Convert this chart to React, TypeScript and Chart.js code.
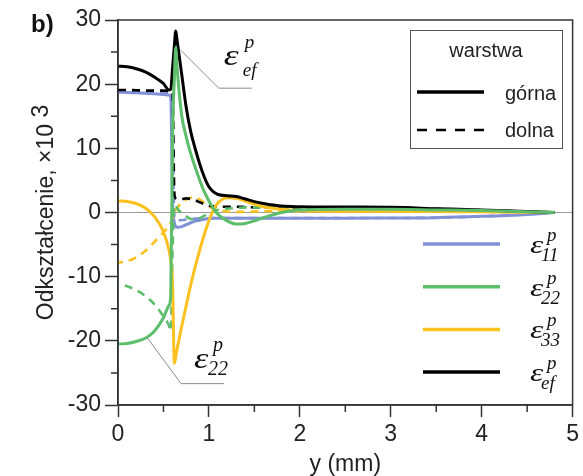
import { useEffect, useRef } from 'react';
import { Chart, registerables } from 'chart.js';
Chart.register(...registerables);

// positions along y (mm)
const Y_MM = [0, 0.1, 0.2, 0.3, 0.4, 0.5, 0.56, 0.58, 0.6, 0.62, 0.635, 0.65, 0.7, 0.75, 0.8, 0.85, 0.9, 0.95, 1.0, 1.05, 1.1, 1.2, 1.3, 1.4, 1.5, 1.6, 1.8, 2.0, 2.5, 3.0, 3.5, 4.0, 4.5, 4.8];

// strains x10^3, warstwa górna (solid) / dolna (dashed)
const E11_GORNA = [18.75, 18.7, 18.65, 18.6, 18.5, 18.4, 18.3, 18.1, 1.5, -1.6, -2.2, -2.3, -2.2, -1.9, -1.6, -1.35, -1.2, -1.05, -0.95, -0.9, -0.9, -0.9, -0.9, -0.9, -0.9, -0.9, -0.9, -0.9, -0.9, -0.85, -0.8, -0.6, -0.3, 0];
const E11_DOLNA = [18.9, 18.9, 18.85, 18.8, 18.75, 18.7, 18.6, 18.5, 12.0, -0.5, -1.0, -1.2, -1.2, -1.1, -1.0, -0.95, -0.9, -0.9, -0.9, -0.85, -0.85, -0.85, -0.85, -0.85, -0.85, -0.85, -0.85, -0.85, -0.85, -0.85, -0.8, -0.6, -0.3, 0];
const E22_GORNA = [-20.5, -20.4, -20.1, -19.6, -18.5, -16.4, -14.5, -13.0, 12.0, 21.0, 25.7, 22.5, 15.2, 11.8, 9.2, 7.0, 5.0, 3.2, 1.8, 0.6, -0.3, -1.3, -1.8, -1.7, -1.3, -0.8, 0.0, 0.4, 0.5, 0.5, 0.4, 0.3, 0.1, 0];
const E22_DOLNA = [-11.1, -11.5, -12.1, -13.0, -14.3, -16.2, -17.6, -18.5, -6.0, 1.0, 1.2, 0.7, -0.1, -0.6, -1.0, -1.1, -0.9, -0.5, -0.1, 0.2, 0.4, 0.6, 0.7, 0.8, 0.8, 0.8, 0.8, 0.8, 0.8, 0.75, 0.55, 0.35, 0.15, 0];
const E33_GORNA = [1.8, 1.7, 1.4, 0.7, -0.6, -3.0, -5.8, -7.5, -11.0, -23.5, -22.5, -21.3, -17.8, -14.5, -11.3, -8.4, -5.8, -3.4, -1.3, 0.4, 1.5, 2.3, 2.2, 1.8, 1.3, 0.9, 0.5, 0.3, 0.2, 0.2, 0.15, 0.1, 0.05, 0];
const E33_DOLNA = [-7.8, -7.6, -7.0, -6.0, -4.6, -3.1, -2.1, -1.6, -0.8, 0.0, 0.4, 0.7, 1.5, 2.0, 2.3, 2.3, 2.0, 1.5, 1.0, 0.6, 0.35, 0.15, 0.1, 0.1, 0.15, 0.2, 0.2, 0.2, 0.2, 0.2, 0.15, 0.1, 0.05, 0];
const EEF_GORNA = [22.8, 22.7, 22.4, 21.9, 21.1, 20.1, 19.1, 19.2, 22.5, 26.0, 28.3, 26.8, 21.6, 16.4, 12.6, 9.9, 7.5, 5.5, 4.0, 3.2, 2.8, 2.6, 2.5, 2.1, 1.7, 1.4, 1.0, 0.9, 0.85, 0.8, 0.6, 0.4, 0.15, 0];
const EEF_DOLNA = [19.1, 19.1, 19.05, 19.0, 19.0, 19.0, 18.95, 18.95, 18.6, 3.0, 2.2, 2.1, 2.1, 2.2, 2.1, 1.9, 1.6, 1.3, 1.05, 0.95, 0.9, 0.9, 0.9, 0.85, 0.8, 0.8, 0.8, 0.8, 0.8, 0.75, 0.55, 0.35, 0.15, 0];

const X_MINOR = [0.5, 1.5, 2.5, 3.5, 4.5];
const Y_MINOR = [-25, -15, -5, 5, 15, 25];

const BLUE = '#8091d8';
const GREEN = '#5cbd6a';
const ORANGE = '#fcc11e';
const BLACK = '#000000';

const SERIES_LEGEND = [
  { color: BLUE, sub: '11' },
  { color: GREEN, sub: '22' },
  { color: ORANGE, sub: '33' },
  { color: BLACK, sub: 'ef' },
];

const SERIF = '"Liberation Serif", "DejaVu Serif", serif';

function drawEps(ctx: CanvasRenderingContext2D, x: number, y: number, sub: string, big: number, stretch: number, small: number, supDx: number, supDy: number, subDx: number, subDy: number) {
  ctx.save();
  ctx.fillStyle = '#111';
  ctx.textAlign = 'left';
  ctx.textBaseline = 'alphabetic';
  ctx.save();
  ctx.translate(x, y);
  ctx.scale(stretch, 1);
  ctx.font = `italic ${big}px ${SERIF}`;
  ctx.fillText('\u03B5', 0, 0);
  ctx.restore();
  ctx.font = `italic ${small}px ${SERIF}`;
  ctx.fillText('p', x + supDx, y + supDy);
  ctx.fillText(sub, x + subDx, y + subDy);
  ctx.restore();
}

const decor = {
  id: 'decor',
  beforeDatasetsDraw(chart: any) {
    const { ctx, chartArea: a, scales } = chart;
    const y0 = scales.y.getPixelForValue(0);
    ctx.save();
    ctx.strokeStyle = '#9a9a9a';
    ctx.lineWidth = 1;
    ctx.beginPath();
    ctx.moveTo(a.left, y0);
    ctx.lineTo(a.right, y0);
    ctx.stroke();
    ctx.restore();
  },
  afterDraw(chart: any) {
    const { ctx, chartArea: a, scales } = chart;
    const sx = scales.x, sy = scales.y;
    ctx.save();
    // frame
    ctx.strokeStyle = '#333';
    ctx.lineWidth = 1.5;
    ctx.strokeRect(a.left, a.top, a.right - a.left, a.bottom - a.top);
    // minor ticks
    ctx.beginPath();
    Y_MINOR.forEach((v) => {
      const p = sy.getPixelForValue(v);
      ctx.moveTo(a.left - 7, p);
      ctx.lineTo(a.left, p);
    });
    X_MINOR.forEach((v) => {
      const p = sx.getPixelForValue(v);
      ctx.moveTo(p, a.bottom);
      ctx.lineTo(p, a.bottom + 7);
    });
    ctx.stroke();

    // leader lines for annotations
    ctx.strokeStyle = '#8a8a8a';
    ctx.lineWidth = 1;
    const t0x = sx.getPixelForValue(0.69), t0y = sy.getPixelForValue(25.3);
    ctx.beginPath();
    ctx.moveTo(t0x, t0y);
    ctx.lineTo(t0x + 38, t0y + 38);
    ctx.lineTo(t0x + 71, t0y + 38);
    ctx.stroke();
    const b0x = sx.getPixelForValue(0.32), b0y = sy.getPixelForValue(-19.5);
    ctx.beginPath();
    ctx.moveTo(b0x, b0y);
    ctx.lineTo(b0x + 34, b0y + 46);
    ctx.lineTo(b0x + 77, b0y + 46);
    ctx.stroke();
    drawEps(ctx, t0x + 43, t0y + 15, 'ef', 29, 1.3, 19, 21, -17, 19, 11);
    drawEps(ctx, b0x + 47, b0y + 30, '22', 29, 1.25, 20, 19, -17, 14, 7);

    // legend box (warstwa)
    ctx.strokeStyle = '#555';
    ctx.lineWidth = 1;
    ctx.strokeRect(410.5, 30.5, 152, 118);
    ctx.fillStyle = '#222';
    ctx.font = '20px "Liberation Sans", Arial, sans-serif';
    ctx.textAlign = 'center';
    ctx.textBaseline = 'alphabetic';
    ctx.fillText('warstwa', 486, 57);
    ctx.textAlign = 'left';
    ctx.fillText('górna', 505, 100);
    ctx.fillText('dolna', 505, 137);
    ctx.strokeStyle = '#000';
    ctx.lineWidth = 3.5;
    ctx.beginPath();
    ctx.moveTo(417, 92);
    ctx.lineTo(484, 92);
    ctx.stroke();
    ctx.lineWidth = 2.5;
    ctx.setLineDash([10, 9]);
    ctx.beginPath();
    ctx.moveTo(417, 130);
    ctx.lineTo(486, 130);
    ctx.stroke();
    ctx.setLineDash([]);

    // series legend
    SERIES_LEGEND.forEach((s, i) => {
      const ly = 244 + i * 42.7;
      ctx.strokeStyle = s.color;
      ctx.lineWidth = 3.5;
      ctx.beginPath();
      ctx.moveTo(423, ly);
      ctx.lineTo(500, ly);
      ctx.stroke();
      drawEps(ctx, 530, ly + 9, s.sub, 26, 1.3, 19, 17, -12, 11, 8);
    });

    // titles
    ctx.fillStyle = '#222';
    ctx.font = '23px "Liberation Sans", Arial, sans-serif';
    ctx.textAlign = 'center';
    ctx.fillText('y (mm)', (a.left + a.right) / 2, 471);
    ctx.save();
    ctx.translate(53, (a.top + a.bottom) / 2);
    ctx.rotate(-Math.PI / 2);
    const main = 'Odkształcenie, \u00D710';
    const wMain = ctx.measureText(main).width;
    const w3 = ctx.measureText(' 3').width;
    ctx.textAlign = 'left';
    const start = -(wMain + w3) / 2;
    ctx.fillText(main, start, 0);
    ctx.fillText(' 3', start + wMain, -5);
    ctx.restore();
    ctx.font = 'bold 24px "Liberation Sans", Arial, sans-serif';
    ctx.textAlign = 'left';
    ctx.fillStyle = '#111';
    ctx.fillText('b)', 31, 32);
    ctx.restore();
  },
};

function pts(ys: number[]) {
  return Y_MM.map((x, i) => ({ x, y: ys[i] }));
}

export default function App() {
  const ref = useRef<HTMLCanvasElement>(null);
  useEffect(() => {
    document.body.style.margin = '0';
    const canvas = ref.current!;
    const solid = (data: number[], color: string) => ({
      data: pts(data), borderColor: color, borderWidth: 3, pointRadius: 0, fill: false, cubicInterpolationMode: 'monotone' as const,
    });
    const dashed = (data: number[], color: string, off: number) => ({
      data: pts(data), borderColor: color, borderWidth: 2.6, borderDash: [8, 6], borderDashOffset: off, pointRadius: 0, fill: false, cubicInterpolationMode: 'monotone' as const,
    });
    const chart = new Chart(canvas, {
      type: 'line',
      data: {
        datasets: [
          solid(E22_GORNA, GREEN),
          solid(EEF_GORNA, BLACK),
          solid(E33_GORNA, ORANGE),
          dashed(E22_DOLNA, GREEN, 7),
          dashed(EEF_DOLNA, BLACK, 0),
          dashed(E33_DOLNA, ORANGE, 3),
          solid(E11_GORNA, BLUE),
          dashed(E11_DOLNA, BLUE, 0),
        ] as any,
      },
      options: {
        responsive: false,
        animation: false,
        events: [],
        layout: { padding: { left: 0, top: 20, right: 1, bottom: 0 } },
        plugins: { legend: { display: false }, tooltip: { enabled: false }, title: { display: false } },
        scales: {
          x: {
            type: 'linear', min: 0, max: 5,
            ticks: { stepSize: 1, color: '#222', padding: 4, font: { family: '"Liberation Sans", Arial, sans-serif', size: 23 } },
            grid: { display: true, drawOnChartArea: false, drawTicks: true, tickLength: 12, tickColor: '#333', tickWidth: 1.5 },
            border: { display: true, color: '#333', width: 1.5 },
            afterFit: (s: any) => { s.height = 71; },
          },
          y: {
            type: 'linear', min: -30, max: 30,
            ticks: { stepSize: 10, color: '#222', padding: 4, font: { family: '"Liberation Sans", Arial, sans-serif', size: 23 } },
            grid: { display: true, drawOnChartArea: false, drawTicks: true, tickLength: 13, tickColor: '#333', tickWidth: 1.5 },
            border: { display: true, color: '#333', width: 1.5 },
            afterFit: (s: any) => { s.width = 118; },
          },
        },
      },
      plugins: [decor],
    });
    return () => chart.destroy();
  }, []);
  return <canvas ref={ref} width={583} height={476} style={{ display: 'block' }} />;
}
